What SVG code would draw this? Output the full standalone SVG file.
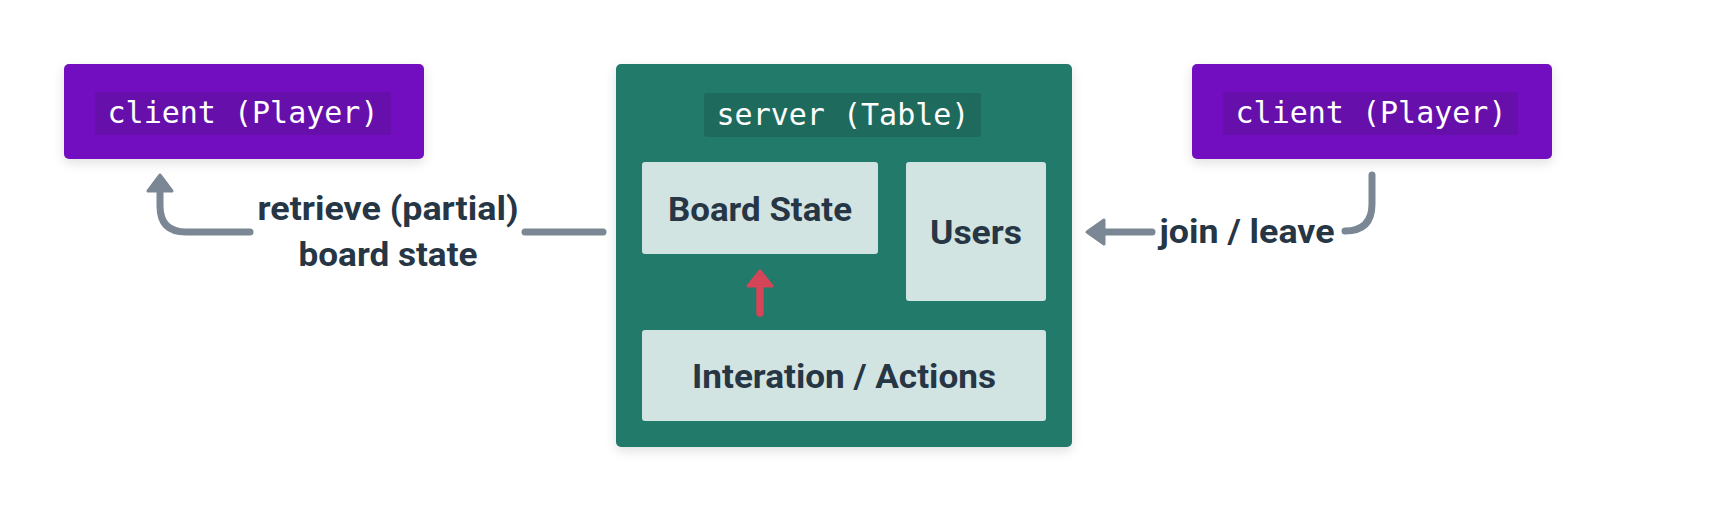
<svg xmlns="http://www.w3.org/2000/svg" width="1712" height="512" viewBox="0 0 1712 512">
  <defs>
    <filter id="shadow" x="-10%" y="-20%" width="120%" height="150%">
      <feDropShadow dx="0" dy="4" stdDeviation="6" flood-color="#000000" flood-opacity="0.12"/>
    </filter>
  </defs>
  <style>
    .client { fill: #7211c0; filter: url(#shadow); }
    .clientTag { fill: #660fab; }
    .server { fill: #207a6a; filter: url(#shadow); }
    .serverTag { fill: #1e6b5d; }
    .inner { fill: #d2e4e2; }
    .mono { font-family: "DejaVu Sans Mono", "Liberation Mono", monospace; font-size: 30px; fill: #ffffff; text-anchor: middle; }
    .lbl { font-family: Roboto, "Noto Sans", sans-serif; font-weight: 700; font-size: 34px; fill: #263645; text-anchor: middle; }
    .conn { fill: none; stroke: #7b8794; stroke-width: 7; stroke-linecap: round; stroke-linejoin: round; }
    .head { fill: #7b8794; stroke: #7b8794; stroke-width: 3; stroke-linejoin: round; }
  </style>
  <rect width="1712" height="512" fill="#ffffff"/>

  <g id="client-left">
    <rect class="client" x="64" y="64" width="360" height="95" rx="5"/>
    <rect class="clientTag" x="95" y="92" width="296" height="43" rx="3"/>
    <text class="mono" x="243" y="123">client (Player)</text>
  </g>

  <g id="server">
    <rect class="server" x="616" y="64" width="456" height="383" rx="5"/>
    <rect class="serverTag" x="704" y="93" width="277" height="44" rx="3"/>
    <text class="mono" x="843" y="125">server (Table)</text>
  </g>

  <g id="board-state">
    <rect class="inner" x="642" y="162" width="236" height="92" rx="3"/>
    <text class="lbl" x="760" y="221" textLength="184" lengthAdjust="spacingAndGlyphs">Board State</text>
  </g>

  <g id="users">
    <rect class="inner" x="906" y="162" width="140" height="139" rx="3"/>
    <text class="lbl" x="976" y="244" textLength="92" lengthAdjust="spacingAndGlyphs">Users</text>
  </g>

  <g id="interaction">
    <rect class="inner" x="642" y="330" width="404" height="91" rx="3"/>
    <text class="lbl" x="844" y="388" textLength="304" lengthAdjust="spacingAndGlyphs">Interation / Actions</text>
  </g>

  <g id="client-right">
    <rect class="client" x="1192" y="64" width="360" height="95" rx="5"/>
    <rect class="clientTag" x="1223" y="92" width="295" height="43" rx="3"/>
    <text class="mono" x="1371" y="123">client (Player)</text>
  </g>

  <g id="connectors">
    <!-- server -> left client: retrieve (partial) board state -->
    <path class="conn" d="M603,232 H525"/>
    <path class="conn" d="M250,232 H186 Q160,232 160,206 V190"/>
    <path class="head" d="M160,175 L172,191 L148,191 Z"/>
    <text class="lbl" x="388" y="220" textLength="261" lengthAdjust="spacingAndGlyphs">retrieve (partial)</text>
    <text class="lbl" x="388" y="266" textLength="179" lengthAdjust="spacingAndGlyphs">board state</text>

    <!-- right client -> server: join / leave -->
    <path class="conn" d="M1372,175 V204 Q1372,231 1345,231"/>
    <path class="conn" d="M1152,232 H1100"/>
    <path class="head" d="M1087,232 L1104,220 L1104,244 Z"/>
    <text class="lbl" x="1247" y="243" textLength="175" lengthAdjust="spacingAndGlyphs">join / leave</text>

    <!-- interaction -> board state -->
    <path d="M760,313 V284" fill="none" stroke="#d44558" stroke-width="7.5" stroke-linecap="round"/>
    <path d="M760,271 L772,286 L748,286 Z" fill="#d44558" stroke="#d44558" stroke-width="3" stroke-linejoin="round"/>
  </g>
</svg>
